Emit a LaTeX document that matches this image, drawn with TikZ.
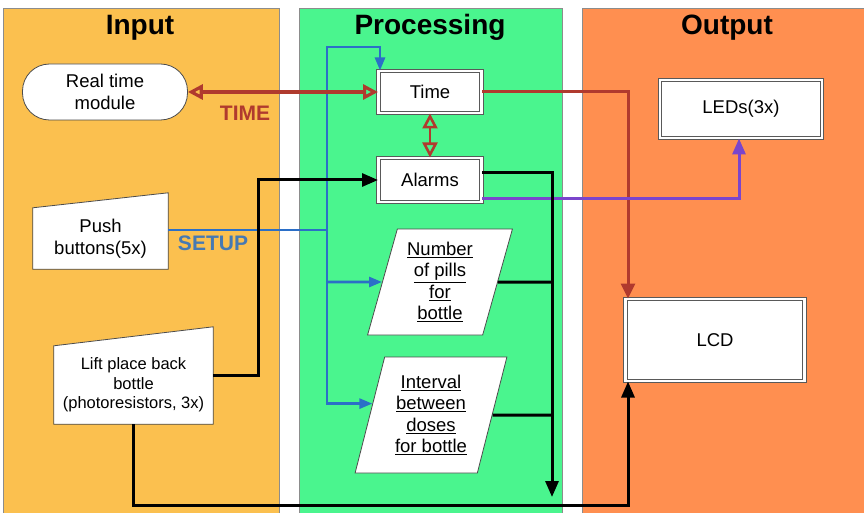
\documentclass[tikz,border=0pt]{standalone}
\usepackage{fontspec}
\setmainfont{Liberation Sans}
\usepackage{xcolor}
\usetikzlibrary{shapes.geometric,arrows.meta,positioning}
\definecolor{inputbg}{HTML}{FBC04F}
\definecolor{procbg}{HTML}{4AF58E}
\definecolor{outbg}{HTML}{FF8F50}
\definecolor{timered}{HTML}{B03A2E}
\definecolor{ledpurple}{HTML}{7B45CC}
\definecolor{setupblue}{HTML}{2B6FC7}
\definecolor{setuptext}{HTML}{4679B3}

\begin{document}
\begin{tikzpicture}[x=1pt,y=-1pt,font=\fontsize{18.5}{21.5}\selectfont,
  panel/.style={draw=black!45,thin},
  title/.style={font=\fontsize{28}{32}\selectfont\bfseries,anchor=base},
  lbl/.style={font=\fontsize{21}{24}\selectfont\bfseries},
  txt/.style={align=center,inner sep=0pt},
  dbox/.style={draw=black!65,double=white,double distance=2.2pt,line width=1pt,fill=white,txt},
  para/.style={trapezium,trapezium left angle=74,trapezium right angle=106,trapezium stretches=true,draw=black!70,thick,fill=white,txt},
  rarr/.style={timered,line width=3.2pt,{Triangle[open,length=15pt,width=15pt]}-{Triangle[open,length=15pt,width=15pt]}},
  blk/.style={line width=3pt,-{Triangle[length=16pt,width=13pt]}},
  blu/.style={setupblue,line width=2.6pt,-{Triangle[length=13pt,width=10pt]}}]
  \useasboundingbox (0,0) rectangle (864,513);
  % columns
  \draw[panel,fill=inputbg] (3,8) rectangle (279,513);
  \draw[panel,fill=procbg] (299,8) rectangle (562,513);
  \draw[panel,fill=outbg] (582,8) rectangle (864,513);
  \node[title] (intitle) at (140,35) {Input};
  \node[title] (proctitle) at (430,35) {Processing};
  \node[title] (outtitle) at (727,35) {Output};
  % blocks
  \node[draw=black!70,thick,fill=white,rounded corners=27pt,minimum width=165pt,minimum height=56pt,txt] (rtm) at (105,92) {Real time\\module};
  \node[dbox,minimum width=103pt,minimum height=42pt] (time) at (430,92) {Time};
  \node[dbox,minimum width=103pt,minimum height=44pt] (alarms) at (430,180) {Alarms};
  \node[dbox,minimum width=162pt,minimum height=58pt] (leds) at (741,109) {LEDs(3x)};
  \node[dbox,minimum width=179pt,minimum height=82pt] (lcd) at (715,340) {LCD};
  \node[para,minimum width=145pt,minimum height=106pt] (pills) at (440,282) {\underline{Number}\\\underline{of pills}\\\underline{for}\\\underline{bottle}};
  \node[para,minimum width=152pt,minimum height=116pt] (interval) at (431,415) {\underline{Interval}\\\underline{between}\\\underline{doses}\\\underline{for bottle}};
  \node[txt,fill=white,minimum width=135pt,minimum height=61pt] (push) at (100.5,238.5) {Push\\buttons(5x)};
  \fill[white] (push.north west) -- ([yshift=15pt]push.north east) -- (push.north east) -- cycle;
  \draw[black!70,thick] (push.south west) -- (push.south east) -- ([yshift=15pt]push.north east) -- (push.north west) -- cycle;
  \node[txt,fill=white,minimum width=159pt,minimum height=78pt,font=\fontsize{16.5}{19.5}\selectfont] (lift) at (133.5,385) {Lift place back\\bottle\\(photoresistors, 3x)};
  \fill[white] (lift.north west) -- ([yshift=19pt]lift.north east) -- (lift.north east) -- cycle;
  \draw[black!70,thick] (lift.south west) -- (lift.south east) -- ([yshift=19pt]lift.north east) -- (lift.north west) -- cycle;
  \node[lbl,text=timered] (timelbl) at (245,113) {TIME};
  \node[lbl,text=setuptext] (setuplbl) at (213,243) {SETUP};
  % buses
  \coordinate (setupbus) at (327,230);
  \coordinate (bluetop) at (327,47);
  \coordinate (bustop) at (552,173);
  \coordinate (botbus) at (552,505);
  % connectors
  \draw[blu,-] ([yshift=8.5pt]push.east) -- (setupbus);
  \draw[blu] (setupbus) -- (bluetop) -| ([xshift=2pt]time.north west);
  \draw[blu] (setupbus |- pills) -- (pills);
  \draw[blu] (setupbus) |- (interval.169);
  \draw[rarr] (rtm) -- (time);
  \draw[rarr,line width=2.6pt] (time) -- (alarms);
  \draw[timered,line width=3pt,-{Triangle[length=15pt,width=14pt]}] (time.east) -| ([xshift=3pt]lcd.north west);
  \draw[ledpurple,line width=3pt,-{Triangle[length=16pt,width=13pt]}] ([yshift=4pt]alarms.south east) -| ([xshift=-2pt]leds.south);
  \draw[blk] ([yshift=10pt]lift.east) -- ++(45,0) |- (alarms.west);
  \draw[blk] (lift.south) |- (botbus) -| ([xshift=3pt]lcd.south west);
  \draw[blk,{Triangle[length=16pt,width=13pt]}-] ([yshift=8pt]botbus) -- (bustop) -- ([yshift=7pt]alarms.east);
  \draw[blk,-] (pills) -- (pills -| bustop);
  \draw[blk,-] (interval) -- (interval -| bustop);
\end{tikzpicture}
\end{document}
